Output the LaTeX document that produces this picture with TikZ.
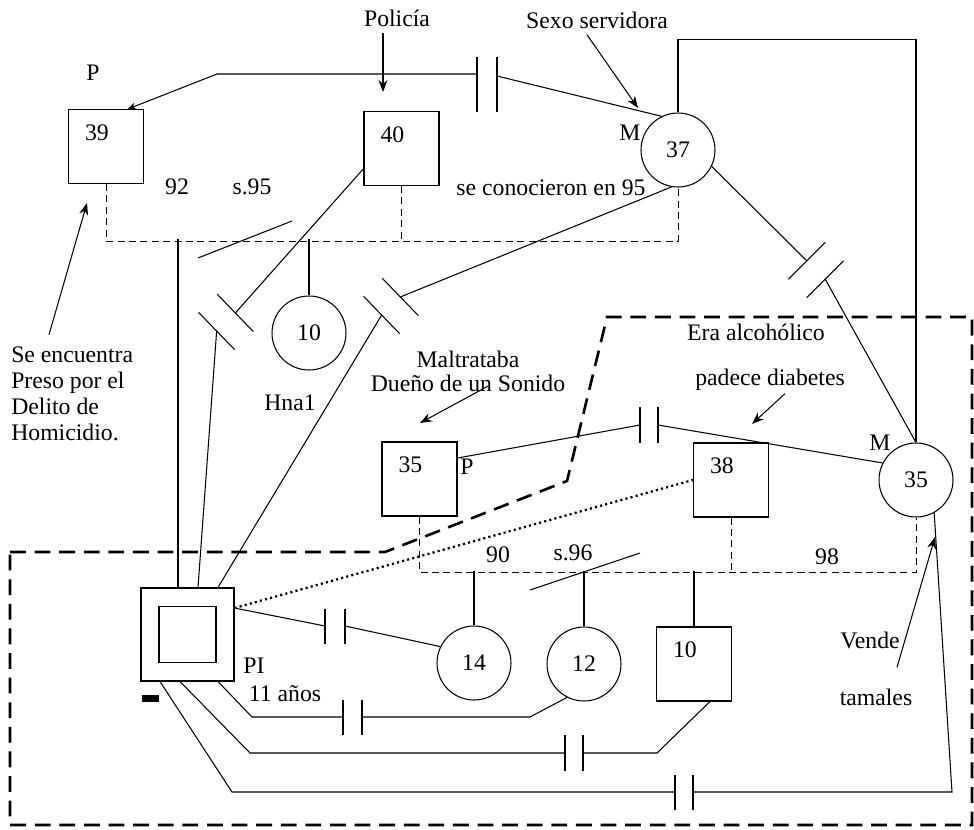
\documentclass[tikz,border=0pt]{standalone}
\usepackage{fontspec}
\setmainfont{Liberation Serif}
\usetikzlibrary{arrows.meta, positioning}

\tikzset{
  pics/brk/.style 2 args={code={
    \draw (-#1/2,-#2/2) -- (-#1/2,#2/2) (#1/2,-#2/2) -- (#1/2,#2/2);
    \coordinate (-a) at (-#1/2,0);
    \coordinate (-b) at (#1/2,0);
  }}
}

\begin{document}
\begin{tikzpicture}[
    x=0.02cm, y=-0.02cm,
    line width=0.6pt,
    font=\fontsize{13.5}{15}\selectfont,
    man/.style={draw, minimum width=1.5cm, minimum height=1.48cm, inner xsep=0.33cm, inner ysep=0.26cm, text width=0.84cm, text height=0.35cm, text depth=0.61cm, align=left},
    woman/.style={draw, circle, minimum size=1.48cm, inner sep=0pt},
    marr/.style={dash pattern=on 4pt off 2.5pt, line width=0.5pt},
    home/.style={dash pattern=on 9pt off 5pt, line width=1.5pt},
    close/.style={dash pattern=on 1.2pt off 1.8pt, line width=1.3pt},
    arr/.style={-{Stealth[length=2.4mm,width=1.8mm]}}
]
\useasboundingbox (0,0) rectangle (974,829);

% persons
\node[man] (b39) at (106,146.5) {39};
\node[man] (b40) at (401.5,148.5) {40};
\node[woman] (c37) at (678,150) {37};
\node[woman] (c10) at (309,333) {10};
\node[man] (b35p) at (419.5,479) {35};
\node[man] (b38) at (731,480) {38};
\node[woman] (c35m) at (916,480) {35};
\node[woman] (c14) at (474,663) {14};
\node[woman] (c12) at (584,664) {12};
\node[man] (b10) at (694,664) {10};
\node[draw, minimum size=1.86cm, inner sep=0pt,
      path picture={\draw (path picture bounding box.center) ++(-0.57cm,-0.56cm) rectangle ++(1.14cm,1.12cm);}] (pi) at (187.5,634.5) {};
\fill (142,695) rectangle (159,702);

% labels
\node (lP1) at (93,73) {P};
\node (tPol) at (397,18) {Policía};
\node (tSex) at (597,20) {Sexo servidora};
\node (lM1) at (630,133) {M};
\node (l92) at (177,187) {92};
\node (ls95) at (252,187) {s.95};
\node (tCon) at (551,188) {se conocieron en 95};
\node[below=0.35cm of c10, xshift=-0.38cm] (tHna) {Hna1};
\node[align=left, anchor=west, inner sep=1pt, font=\fontsize{13.5}{14.8}\selectfont] (tPreso) at (9,394) {Se encuentra\\Preso por el\\Delito de\\Homicidio.};
\node[align=center, font=\fontsize{13.5}{13.6}\selectfont] (tMal) at (468,371) {Maltrataba\\Dueño de un Sonido};
\node (tAlc) at (756,332) {Era alcohólico};
\node (tDia) at (770,380) {padece diabetes};
\node (lP2) at (467,467) {P};
\node (lM2) at (880,443) {M};
\node (l90) at (498,555) {90};
\node (ls96) at (573,553) {s.96};
\node (l98) at (827,557) {98};
\node (lPI) at (254,666) {PI};
\node (l11) at (285,694) {11 años};
\node (tVen) at (870,640) {Vende};
\node (tTam) at (876,697) {tamales};

% 39 - 37
\pic (k1) at (487,84.5) {brk={20}{55}};
\draw[-{Stealth[length=1.6mm,width=1.4mm]}] ([yshift=0.21cm]k1-a) -- (217,74) -- ([xshift=0.44cm]b39.north);
\draw ([yshift=0.17cm]k1-b) -- (c37.116);
\draw[marr] (b39.south) -- ++(0,57) -| (c37.south);
\draw[marr] (b40.south) -- ++(0,55);
\draw ([xshift=-0.19cm]pi.north) -- ++(0,-348);
\draw (c10.north) -- ++(0,-56);
\draw (198,258) -- (292,221);

% 40 - PI, 37 - PI
\pic[rotate=-136] (k3) at (226,322) {brk={26}{52}};
\draw (b40.-152) -- (k3-a);
\draw (k3-b) -- ([xshift=0.21cm]pi.north);
\pic[rotate=-136] (k4) at (391,306) {brk={26}{52}};
\draw (c37.-100) -- (k4-a);
\draw (k4-b) -- ([xshift=0.61cm]pi.north);

% 37 - 35
\pic[rotate=-45] (k2) at (816,270) {brk={26}{52}};
\draw (c37.-26) -- (k2-a);
\draw (k2-b) -- (c35m.north);
\draw (c37.north) -- ++(0,-73) -| (c35m.north);

% 35 - 35
\pic (k5) at (649,425) {brk={18}{36}};
\draw ([yshift=0.42cm]b35p.east) -- (k5-a);
\draw (k5-b) -- (c35m.153);
\draw[marr] (b35p.south) -- ++(0,56) -| (c35m.south);
\draw[marr] (b38.south) -- ++(0,55);
\draw (c14.north) -- ++(0,-54);
\draw (c12.north) -- ++(0,-55);
\draw (b10.north) -- ++(0,-55);
\draw (530,590) -- (640,553);

% PI
\draw[close] ([yshift=0.53cm]pi.east) -- (b38.west);
\pic (k6) at (335,626) {brk={20}{35}};
\draw ([yshift=0.53cm]pi.east) -- (k6-a);
\draw (k6-b) -- (c14.154);
\pic (k7) at (352.5,717) {brk={19}{35}};
\draw ([xshift=0.61cm]pi.south) -- (252,717) -- (k7-a);
\draw (k7-b) -- (530,717) -- (c12.-117);
\pic (k8) at (574,753) {brk={18}{36}};
\draw ([xshift=-0.15cm]pi.south) -- (250,753) -- (k8-a);
\draw (k8-b) -- (657,753) -- ([xshift=0.32cm]b10.south);
\pic (k9) at (684,792) {brk={18}{35}};
\draw ([xshift=-0.55cm]pi.south) -- (232,792) -- (k9-a);
\draw (k9-b) -- (952,792) -- (c35m.-61);

% notes
\coordinate (pPol) at (383,92);
\draw[arr] (tPol.south -| pPol) -- (pPol);
\coordinate (pSex) at (638,108);
\draw[arr] ([xshift=-0.2cm]tSex.south) -- (pSex);
\coordinate (pPreso) at (87,203);
\draw[arr] ([xshift=0.8cm,yshift=0.2cm]tPreso.north west) -- (pPreso);
\coordinate (p35) at (420,423);
\draw[arr] ([xshift=0.4cm,yshift=0.23cm]tMal.south) -- (p35);
\coordinate (pDia) at (752,424);
\draw[arr] ([xshift=0.3cm,yshift=0.07cm]tDia.south) -- (pDia);
\coordinate (pVen) at (935,537);
\draw[arr] ([xshift=0.54cm,yshift=-0.25cm]tVen.south) -- (pVen);

% household
\draw[home] (10,552) -- (385,552) -- (567,481) -- (607,317) -- (972,317) -- (972,825) -- (10,825) -- cycle;
\end{tikzpicture}
\end{document}
